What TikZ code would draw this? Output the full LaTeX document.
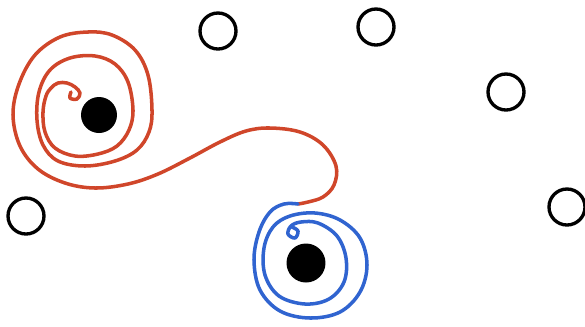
\documentclass[tikz,border=0pt]{standalone}
\usetikzlibrary{positioning}

\definecolor{pathred}{RGB}{208,70,42}
\definecolor{pathblue}{RGB}{48,100,208}

\begin{document}
\begin{tikzpicture}[
        x=0.02cm, y=-0.02cm,
        ring/.style={draw, circle, line width=1.9pt, inner sep=0pt, minimum size=0.72cm},
        dot/.style={fill, circle, inner sep=0pt, minimum size=#1},
        stroke/.style={line width=2pt, line cap=round, line join=round, smooth, tension=0.6}
    ]
    \useasboundingbox (0,0) rectangle (585,326);

    \node[dot=0.72cm] (DotA) at (99,115) {};
    \node[dot=0.78cm] (DotB) at (306,263) {};

    \node[ring] (R1) at (218,31) {};
    \node[ring] (R2) at (376,27) {};
    \node[ring] (R3) at (506,92) {};
    \node[ring] (R4) at (567,207) {};
    \node[ring] (R5) at (26,216) {};

    \coordinate (Switch) at (298,204);

    \draw[stroke, pathred] plot coordinates {
        (71,92) (70,98) (77,99) (80,93) (75,87) (67,83) (58,83) (51,88) (46,96)
        (43,112) (45,132) (55,148) (75,156) (98,154) (117,146) (129,130) (133,110)
        (128,82) (115,64) (95,56) (70,58) (50,70) (39,92) (37,120) (43,145)
        (58,161) (85,166) (115,161) (137,150) (149,132) (152,110)
        (148,75) (135,50) (112,35) (88,32) (60,37) (35,55) (19,84) (13,115)
        (20,146) (38,169) (65,183) (95,188) (128,184) (158,174)
        (190,158) (220,142) (246,131) (270,128) (300,132) (323,145) (336,166) (334,185)
        (323,197) (308,202) (Switch)};

    \draw[stroke, pathblue] plot coordinates {
        (Switch) (284,204) (270,212) (259,232) (254,260) (260,290) (280,311)
        (310,318) (340,312) (360,292) (367,265) (360,238) (340,220) (315,213)
        (290,216) (273,227) (264,248) (265,275) (279,296) (305,304) (329,299)
        (344,282) (346,258) (337,236) (318,223) (301,222) (291,226) (288,234)
        (295,238) (298,231) (292,227)};

\end{tikzpicture}
\end{document}
